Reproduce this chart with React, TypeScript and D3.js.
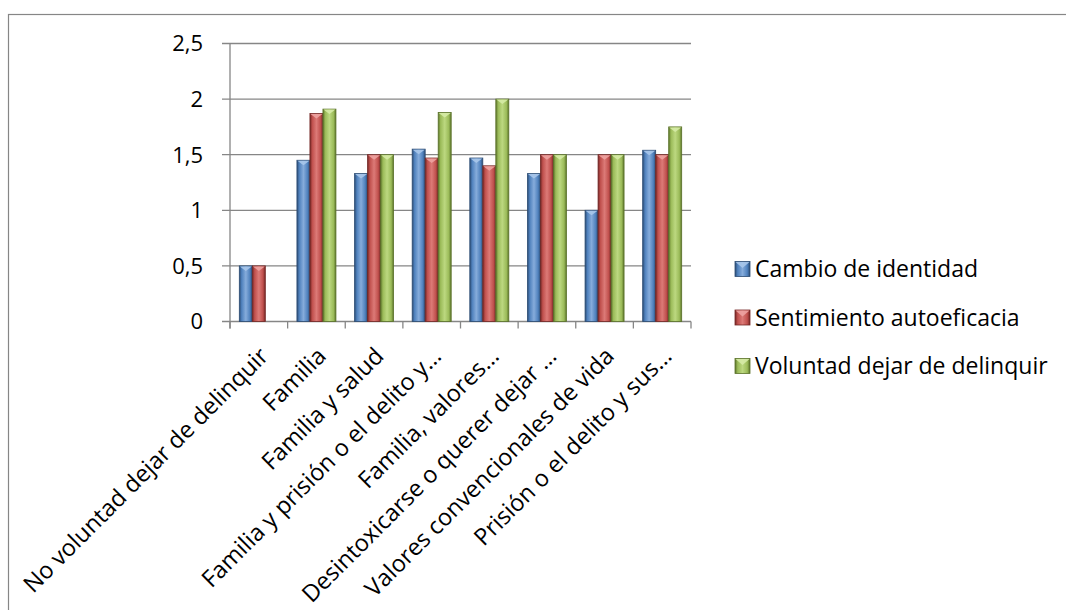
import * as d3 from 'd3'
import { FC } from 'react'

const categories = [
  'No voluntad dejar de delinquir',
  'Familia',
  'Familia y salud',
  'Familia y prisión o el delito y…',
  'Familia, valores…',
  'Desintoxicarse o querer dejar …',
  'Valores convencionales de vida',
  'Prisión o el delito y sus…',
]
const seriesNames = ['Cambio de identidad', 'Sentimiento autoeficacia', 'Voluntad dejar de delinquir']
const cambio = [0.5, 1.45, 1.33, 1.55, 1.47, 1.33, 1.0, 1.54]
const sentimiento = [0.5, 1.87, 1.5, 1.47, 1.4, 1.5, 1.5, 1.5]
const voluntad = [0, 1.91, 1.5, 1.88, 2.0, 1.5, 1.5, 1.75]
const yTicks = [0, 0.5, 1, 1.5, 2, 2.5]

const palette = [
  { base: '#4F81BD', light: '#86ACDB', dark: '#2B4B73', bevel: '#A9C6EA' },
  { base: '#C0504D', light: '#DC7A77', dark: '#742725', bevel: '#EDA3A1' },
  { base: '#9BBB59', light: '#BCD880', dark: '#5A7229', bevel: '#D6EBA6' },
]

const W = 1066
const H = 610
const plot = { left: 230, right: 691, top: 43.5, bottom: 321.5 }
const font = '"Open Sans", sans-serif'
const fmt = (v: number) => String(v).replace('.', ',')

const App: FC = () => {
  const values = [cambio, sentimiento, voluntad]
  const x = d3.scaleBand<string>().domain(categories).range([plot.left, plot.right])
    .paddingInner(0.323).paddingOuter(0.1615)
  const xs = d3.scaleBand<number>().domain([0, 1, 2]).range([0, x.bandwidth()])
  const y = d3.scaleLinear().domain([0, 2.5]).range([plot.bottom, plot.top])
  const step = x.step()
  const bounds = d3.range(categories.length + 1).map(i => plot.left + i * step)

  return (
    <svg width={W} height={H} style={{ position: 'absolute', left: 0, top: 0, background: '#fff' }}
      fontFamily={font}>
      <defs>
        {palette.map((c, i) => (
          <linearGradient key={i} id={`grad${i}`} x1="0" x2="1" y1="0" y2="0">
            <stop offset="0" stopColor={c.dark} />
            <stop offset="0.18" stopColor={c.base} />
            <stop offset="0.5" stopColor={c.light} />
            <stop offset="0.82" stopColor={c.base} />
            <stop offset="1" stopColor={c.dark} />
          </linearGradient>
        ))}
      </defs>
      <rect x={8.5} y={14.5} width={1100} height={700} fill="#fff" stroke="#868686" strokeWidth={1.2} />

      {/* grid + y axis */}
      {yTicks.map(t => (
        <g key={t}>
          <line x1={plot.left - 8} x2={plot.right} y1={y(t)} y2={y(t)} stroke="#868686" strokeWidth={1.3} />
          <text x={203} y={y(t)} dy="0.36em" textAnchor="end" fontSize={22} fill="#000">{fmt(t)}</text>
        </g>
      ))}
      <line x1={plot.left} x2={plot.left} y1={plot.top} y2={plot.bottom + 7} stroke="#868686" strokeWidth={1.3} />
      {bounds.map((b, i) => (
        <line key={i} x1={b} x2={b} y1={plot.bottom} y2={plot.bottom + 7} stroke="#868686" strokeWidth={1.3} />
      ))}

      {/* bars */}
      {categories.map((cat, ci) => (
        <g key={cat}>
          {values.map((vals, si) => {
            const v = vals[ci]
            if (!v) return null
            const bx = (x(cat) as number) + (xs(si) as number)
            const bw = xs.bandwidth()
            const by = y(v)
            const bh = y(0) - by
            const c = palette[si]
            return (
              <g key={si}>
                <rect x={bx} y={by} width={bw} height={bh} fill={`url(#grad${si})`} stroke={c.dark} strokeWidth={0.8} />
                <path d={`M${bx + 0.5},${by + 0.5} L${bx + bw - 0.5},${by + 0.5} L${bx + bw / 2},${by + 5}Z`} fill={c.bevel} opacity={0.9} />
              </g>
            )
          })}
        </g>
      ))}

      {/* x labels */}
      {categories.map(cat => {
        const cx = (x(cat) as number) + x.bandwidth() / 2
        return (
          <text key={cat} transform={`translate(${cx + 11},${plot.bottom + 36}) rotate(-45)`}
            textAnchor="end" fontSize={23.5} fill="#000">{cat}</text>
        )
      })}

      {/* legend */}
      {seriesNames.map((name, i) => {
        const ly = 269 + i * 48.5
        const c = palette[i]
        return (
          <g key={name}>
            <rect x={735} y={ly - 7.5} width={15} height={15} fill={`url(#grad${i})`} stroke={c.dark} strokeWidth={0.8} />
            <path d={`M735.5,${ly - 7} L749.5,${ly - 7} L742.5,${ly - 1}Z`} fill={c.bevel} opacity={0.9} />
            <text x={755} y={ly} dy="0.36em" fontSize={23} fill="#000">{name}</text>
          </g>
        )
      })}
    </svg>
  )
}

export default App
